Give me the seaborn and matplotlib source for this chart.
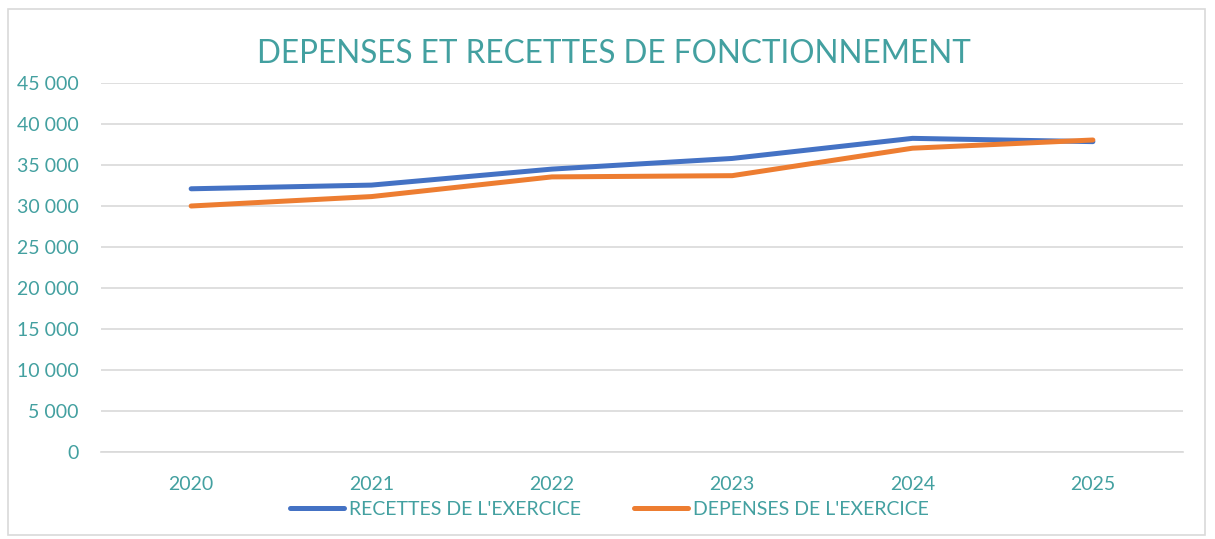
import seaborn as sns
import pandas as pd
import matplotlib.pyplot as plt
from matplotlib.patches import Rectangle
from matplotlib.ticker import FuncFormatter

years = ['2020', '2021', '2022', '2023', '2024', '2025']
recettes = [32100, 32550, 34500, 35800, 38250, 37850]
depenses = [30000, 31150, 33550, 33700, 37050, 38050]
series = ["RECETTES DE L'EXERCICE", "DEPENSES DE L'EXERCICE"]

teal = '#43A0A0'

df = pd.DataFrame({
    'annee': years * 2,
    'valeur': recettes + depenses,
    'serie': [series[0]] * 6 + [series[1]] * 6,
})

sns.set_style('white')
plt.rcParams['font.family'] = ['Lato', 'DejaVu Sans']

fig = plt.figure(figsize=(12.15, 5.39), dpi=100)
ax = fig.add_axes([0.0831, 0.1614, 0.8906, 0.6846])

sns.lineplot(data=df, x='annee', y='valeur', hue='serie', sort=False,
             palette=['#4472C4', '#ED7D31'], linewidth=3.6, ax=ax,
             solid_capstyle='round')

ax.set_xlim(-0.5, 5.5)
ax.set_ylim(0, 45000)
ax.set_yticks(range(0, 45001, 5000))
ax.yaxis.set_major_formatter(FuncFormatter(lambda v, p: f'{int(v):,}'.replace(',', ' ')))
ax.grid(axis='y', color='#d9d9d9', linewidth=1.2)
ax.set_axisbelow(True)
for s in ['top', 'right', 'left']:
    ax.spines[s].set_visible(False)
ax.spines['bottom'].set_color('#d9d9d9')
ax.spines['bottom'].set_linewidth(1.2)
ax.tick_params(axis='both', length=0, labelsize=14, labelcolor=teal)
ax.tick_params(axis='y', pad=16)
ax.tick_params(axis='x', pad=17)
ax.set_xlabel('')
ax.set_ylabel('')

fig.text(0.505, 0.9, 'DEPENSES ET RECETTES DE FONCTIONNEMENT', ha='center', va='center',
         fontsize=22.7, color=teal)

leg = ax.legend(loc='center', bbox_to_anchor=(0.47, -0.155), ncol=2, frameon=False,
                fontsize=14, handlelength=2.8, handletextpad=0.25, columnspacing=2.7)
for t in leg.get_texts():
    t.set_color(teal)
for h in leg.get_lines():
    h.set_linewidth(3.6)
    h.set_solid_capstyle('round')

fig.patches.append(Rectangle((8 / 1215, 4 / 539), 1197 / 1215, 526 / 539, transform=fig.transFigure,
                             fill=False, edgecolor='#d9d9d9', linewidth=1.2))

plt.savefig('out.png', dpi=100)
plt.close()
